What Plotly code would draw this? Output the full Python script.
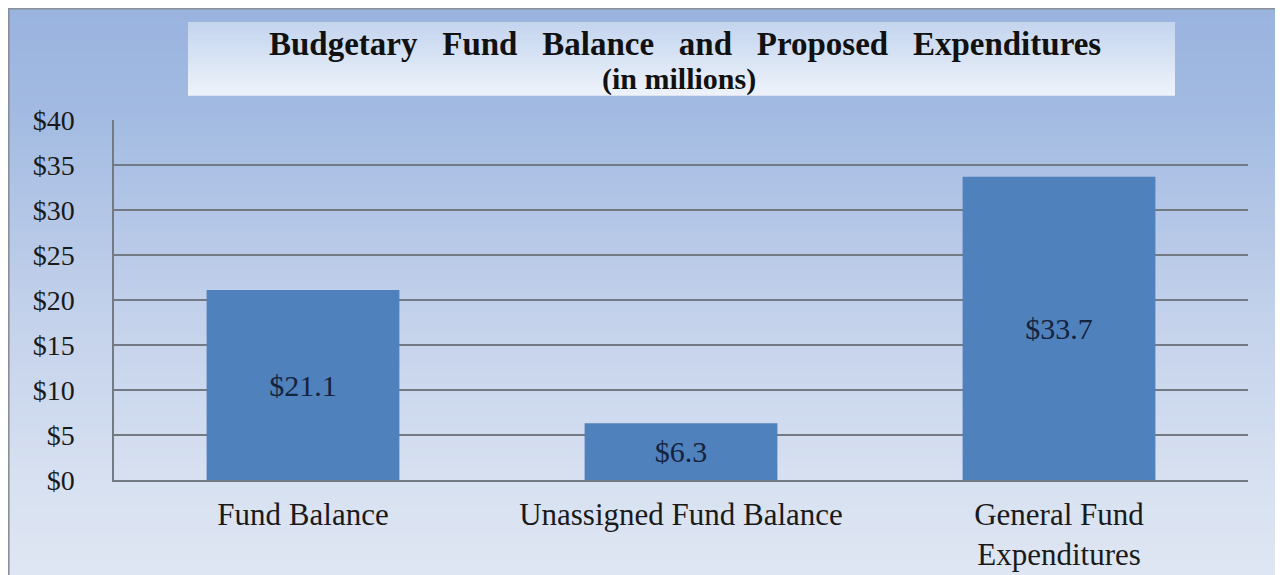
import plotly.graph_objects as go

categories = ["Fund Balance", "Unassigned Fund Balance", "General Fund<br>Expenditures"]
values = [21.1, 6.3, 33.7]
value_labels = ["$21.1", "$6.3", "$33.7"]
tick_vals = [0, 5, 10, 15, 20, 25, 30, 35, 40]
tick_text = ["$0", "$5", "$10", "$15", "$20", "$25", "$30", "$35", "$40"]

OFF = 8                      # default page margin of the html body
PAGE_W, PAGE_H = 1283, 575
W, H = PAGE_W - OFF, PAGE_H - OFF
SERIF = "Liberation Serif, Times New Roman, serif"

# plot area in page pixels
PX0, PX1, PY0, PY1 = 114, 1248, 120, 480
ML, MR = PX0 - OFF, PAGE_W - PX1
MT, MB = PY0 - OFF, PAGE_H - PY1
PW, PH = W - ML - MR, H - MT - MB


def fx(x):  # page px -> paper x
    return (x - OFF - ML) / PW


def fy(y):  # page px -> paper y
    return 1 - (y - OFF - MT) / PH


def lerp_color(c1, c2, t):
    a = [int(c1[i:i + 2], 16) for i in (1, 3, 5)]
    b = [int(c2[i:i + 2], 16) for i in (1, 3, 5)]
    return "#%02x%02x%02x" % tuple(round(a[k] + (b[k] - a[k]) * t) for k in range(3))


def gradient_strips(x0, x1, y0, y1, stops, n):
    shapes = []
    for i in range(n):
        f = (i + 0.5) / n
        col = stops[-1][1]
        for j in range(len(stops) - 1):
            if stops[j][0] <= f <= stops[j + 1][0]:
                t = (f - stops[j][0]) / (stops[j + 1][0] - stops[j][0])
                col = lerp_color(stops[j][1], stops[j + 1][1], t)
                break
        ya = y0 + (y1 - y0) * i / n
        yb = y0 + (y1 - y0) * (i + 1) / n + 0.8
        shapes.append(dict(type="rect", xref="paper", yref="paper",
                           x0=fx(x0), x1=fx(x1), y0=fy(yb), y1=fy(ya),
                           fillcolor=col, line=dict(width=0), layer="below"))
    return shapes


shapes = []
shapes += gradient_strips(0, PAGE_W + 10, 0, PAGE_H + 10,
                          [(0, "#98b3df"), (0.2, "#a3bbe2"), (0.5, "#c0cfea"),
                           (0.85, "#d9e2f1"), (1, "#dfe6f3")], 90)
shapes += gradient_strips(188, 1175, 22, 95, [(0, "#c3d4ee"), (1, "#eef3fa")], 25)
# outer border (top & left)
shapes.append(dict(type="line", xref="paper", yref="paper",
                   x0=fx(OFF), x1=fx(PAGE_W + 10), y0=fy(OFF + 0.8), y1=fy(OFF + 0.8),
                   line=dict(color="#8a8f96", width=1.6), layer="above"))
shapes.append(dict(type="line", xref="paper", yref="paper",
                   x0=fx(OFF + 0.8), x1=fx(OFF + 0.8), y0=fy(OFF), y1=fy(PAGE_H + 10),
                   line=dict(color="#8a8f96", width=1.6), layer="above"))

fig = go.Figure()
fig.add_trace(go.Bar(
    x=categories, y=values, text=value_labels,
    textposition="inside", insidetextanchor="middle", textangle=0,
    textfont=dict(family=SERIF, size=30, color="#15233d"),
    marker=dict(color="#4f81bd", line=dict(width=0)),
    hoverinfo="skip",
))

fig.add_annotation(text="<b>Budgetary   Fund   Balance   and   Proposed   Expenditures</b>",
                   xref="paper", yref="paper",
                   x=fx(685), y=fy(44), xanchor="center", yanchor="middle",
                   showarrow=False, font=dict(family=SERIF, size=33, color="#111111"))
fig.add_annotation(text="<b>(in millions)</b>",
                   xref="paper", yref="paper",
                   x=fx(679), y=fy(79), xanchor="center", yanchor="middle",
                   showarrow=False, font=dict(family=SERIF, size=30, color="#111111"))

fig.update_layout(
    width=W, height=H,
    margin=dict(l=ML, r=MR, t=MT, b=MB, autoexpand=False),
    paper_bgcolor="#c0d0ea",
    plot_bgcolor="rgba(0,0,0,0)",
    bargap=0.49,
    showlegend=False,
    shapes=shapes,
    font=dict(family=SERIF, color="#1a1a1a"),
)
fig.update_yaxes(range=[0, 40], tickvals=tick_vals, ticktext=tick_text,
                 showgrid=True, gridcolor="#737a83", gridwidth=1.5,
                 showline=True, linecolor="#737a83", linewidth=1.5,
                 zeroline=False, ticks="", ticklabelstandoff=32,
                 tickfont=dict(family=SERIF, size=28, color="#1a1a1a"))
fig.update_xaxes(showgrid=False, showline=True, linecolor="#737a83", linewidth=1.5,
                 ticks="", ticklabelstandoff=6,
                 tickfont=dict(family=SERIF, size=31, color="#1a1a1a"))

fig.write_html("out.html")
